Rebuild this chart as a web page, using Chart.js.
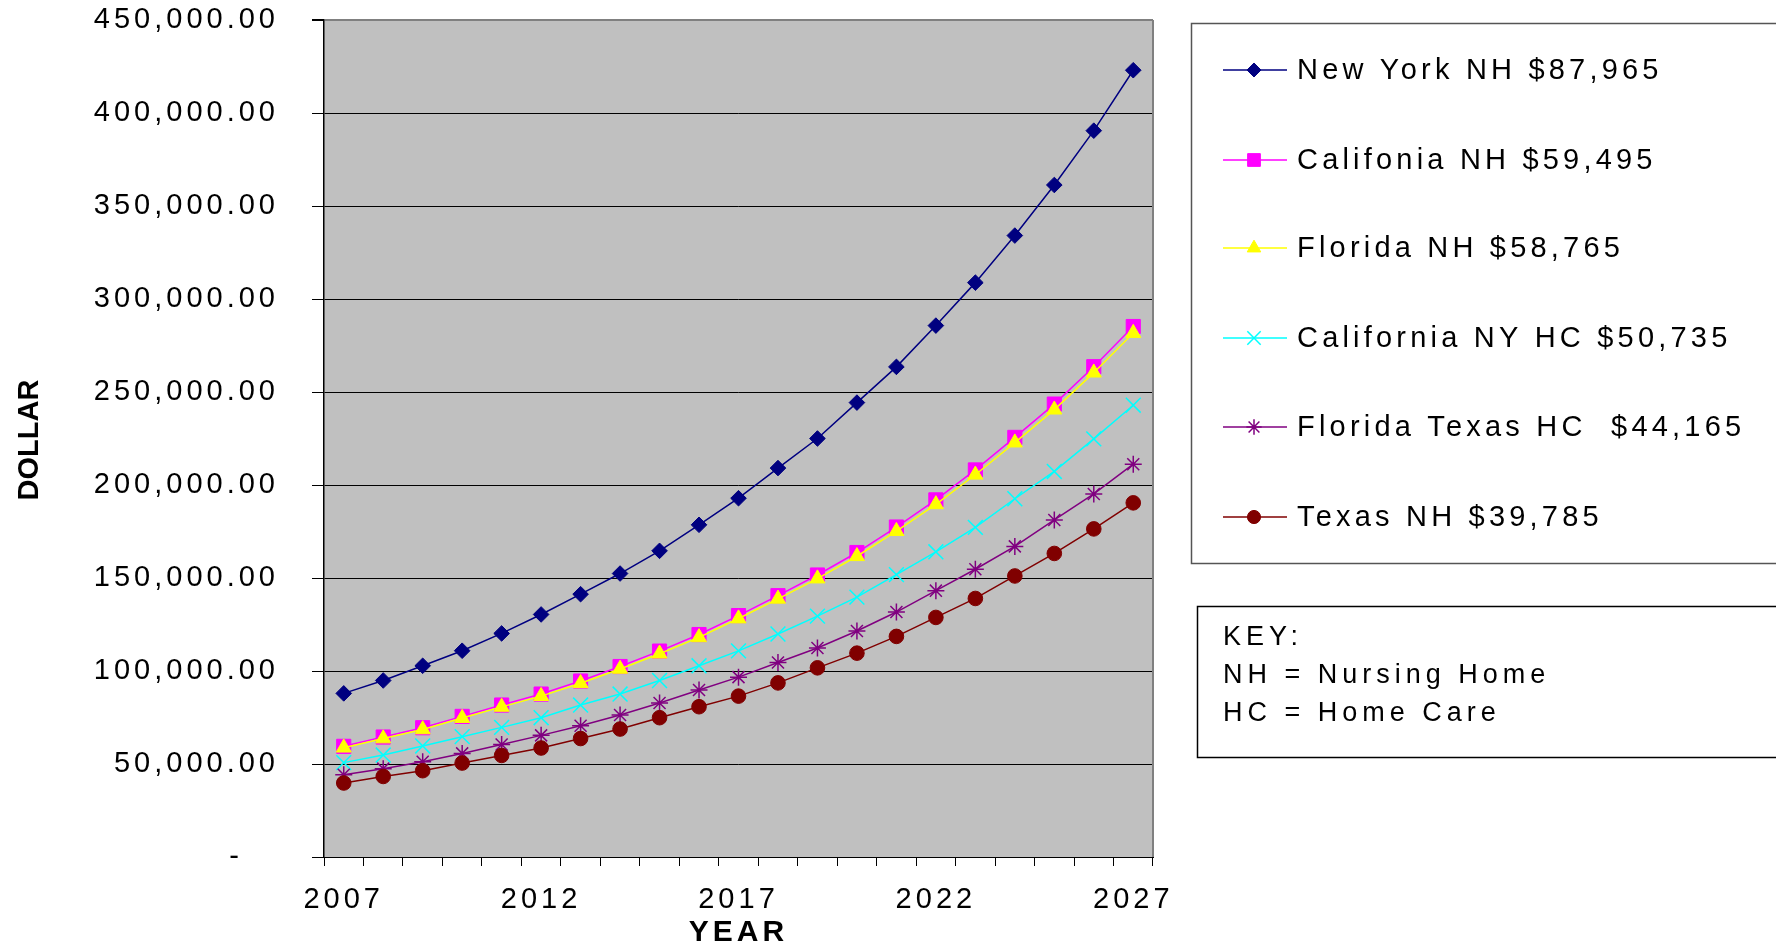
<!DOCTYPE html>
<html>
<head>
<meta charset="utf-8">
<title>Long-term care cost projection</title>
<script src="https://cdn.jsdelivr.net/npm/chart.js@4/dist/chart.umd.min.js"></script>
<style>
  html, body { margin: 0; padding: 0; background: #fff; }
  #wrap { position: relative; width: 1776px; height: 949px; }
</style>
</head>
<body>
<div id="wrap"><canvas id="lineChart" width="1776" height="949"></canvas></div>
<script>
// values (dollars per year)
const years = ['2007', '2008', '2009', '2010', '2011', '2012', '2013', '2014', '2015', '2016', '2017',
  '2018', '2019', '2020', '2021', '2022', '2023', '2024', '2025', '2026', '2027'];
const shownYears = ['2007', '2012', '2017', '2022', '2027'];

const newYorkNH = [87965, 94900, 102800, 110900, 120200, 130400, 141300, 152400, 164600, 178600, 192900,
  209100, 225000, 244300, 263500, 285700, 308800, 334100, 361300, 390500, 423000];
const californiaNH = [59495, 64500, 69500, 75600, 81700, 87600, 94600, 102400, 110700, 119600, 129800,
  140500, 151600, 163700, 177400, 192000, 208100, 225600, 243500, 263600, 285200];
const floridaNH = [58765, 63700, 68600, 74700, 80700, 86500, 93400, 101100, 109300, 118100, 128200,
  138800, 149700, 161700, 175200, 189600, 205500, 222800, 240500, 260400, 281700];
const californiaNyHC = [50735, 54800, 59700, 64700, 69700, 74900, 81700, 87600, 94900, 102800, 110800,
  119900, 129500, 139700, 151800, 164100, 177200, 192600, 207300, 224800, 242900];
const floridaTexasHC = [44165, 47500, 51200, 55700, 60500, 65400, 70600, 76300, 82800, 89800, 96700,
  104600, 112400, 121500, 131700, 143200, 154700, 167000, 181200, 195200, 211200];
const texasNH = [39785, 43300, 46400, 50500, 54600, 58600, 63700, 68800, 74900, 80800, 86500,
  93600, 101700, 109600, 118600, 128800, 139000, 151100, 163200, 176400, 190400];

const seriesNames = ['New York NH $87,965', 'Califonia NH $59,495', 'Florida NH $58,765',
  'California NY HC $50,735', 'Florida Texas HC  $44,165', 'Texas NH $39,785'];
const keyLines = ['KEY:', 'NH = Nursing Home', 'HC = Home Care'];

const yMax = 450000;
const yStep = 50000;

const FONT = '"Liberation Sans", Arial, sans-serif';

function series(label, data, color, style, radius, bw) {
  return {
    label, data,
    borderColor: color,
    backgroundColor: color,
    borderWidth: 1.5,
    pointStyle: style,
    pointRadius: radius,
    pointHoverRadius: radius,
    pointBorderWidth: bw,
    pointBackgroundColor: color,
    pointBorderColor: color,
    tension: 0,
  };
}

const datasets = [
  series(seriesNames[0], newYorkNH, '#000080', 'rectRot', 7.8, 1),
  series(seriesNames[1], californiaNH, '#ff00ff', 'rect', 10, 1),
  series(seriesNames[2], floridaNH, '#ffff00', 'triangle', 8.7, 1),
  series(seriesNames[3], californiaNyHC, '#00ffff', 'crossRot', 10.5, 1.5),
  series(seriesNames[4], floridaTexasHC, '#800080', 'star', 8.5, 1.5),
  series(seriesNames[5], texasNH, '#800000', 'circle', 7.3, 1),
];
// later series sit on top, like the original
datasets.forEach((d, i) => { d.order = datasets.length - i; });

const plotFrame = {
  id: 'plotFrame',
  beforeDraw(chart) {
    const { ctx, chartArea: a } = chart;
    ctx.save();
    ctx.fillStyle = '#c0c0c0';
    ctx.fillRect(a.left, a.top, a.right - a.left, a.bottom - a.top);
    ctx.restore();
    ctx.letterSpacing = '4px';
  },
  beforeDatasetsDraw(chart) {
    const { ctx, chartArea: a } = chart;
    ctx.save();
    ctx.strokeStyle = '#808080';
    ctx.lineWidth = 2;
    ctx.beginPath();
    ctx.moveTo(a.right, a.top);
    ctx.lineTo(a.right, a.bottom);
    ctx.stroke();
    ctx.restore();
  },
  afterDraw(chart) {
    const { ctx } = chart;
    ctx.save();
    // y axis title
    ctx.letterSpacing = '0px';
    ctx.translate(30, 440);
    ctx.rotate(-Math.PI / 2);
    ctx.font = 'bold 29px ' + FONT;
    ctx.fillStyle = '#000';
    ctx.textAlign = 'center';
    ctx.textBaseline = 'middle';
    ctx.fillText('DOLLAR', 0, 0);
    ctx.restore();

    // legend box
    ctx.save();
    ctx.strokeStyle = '#555';
    ctx.lineWidth = 1.5;
    ctx.strokeRect(1191.5, 23.5, 700, 540);
    const rowY = [70, 160, 248, 338, 427, 517];
    chart.data.datasets.forEach((d, i) => {
      const y = rowY[i];
      ctx.strokeStyle = d.borderColor;
      ctx.lineWidth = 1.5;
      ctx.beginPath();
      ctx.moveTo(1223, y);
      ctx.lineTo(1287, y);
      ctx.stroke();
      ctx.fillStyle = d.pointBackgroundColor;
      ctx.strokeStyle = d.pointBorderColor;
      ctx.lineWidth = d.pointBorderWidth;
      Chart.helpers.drawPoint(ctx, {
        pointStyle: d.pointStyle, rotation: 0,
        radius: d.pointRadius * 0.9, borderWidth: d.pointBorderWidth,
      }, 1254, y);
      ctx.fillStyle = '#000';
      ctx.font = '29px ' + FONT;
      ctx.letterSpacing = '4.2px';
      ctx.textAlign = 'left';
      ctx.textBaseline = 'middle';
      ctx.fillText(d.label, 1297, y + 1);
    });
    ctx.restore();

    // key box
    ctx.save();
    ctx.strokeStyle = '#000';
    ctx.lineWidth = 1.5;
    ctx.strokeRect(1197.5, 606.5, 700, 151);
    ctx.fillStyle = '#000';
    ctx.font = '27px ' + FONT;
    ctx.letterSpacing = '5px';
    ctx.textAlign = 'left';
    ctx.textBaseline = 'middle';
    const keyY = [638, 676, 714];
    keyLines.forEach((t, i) => ctx.fillText(t, 1223, keyY[i]));
    ctx.restore();
  },
};

new Chart(document.getElementById('lineChart').getContext('2d'), {
  type: 'line',
  data: { labels: years, datasets },
  options: {
    responsive: false,
    animation: false,
    layout: { autoPadding: false, padding: { top: 20, right: 623, bottom: 0, left: 0 } },
    plugins: {
      legend: { display: false },
      tooltip: { enabled: false },
    },
    scales: {
      x: {
        offset: true,
        grid: {
          offset: true,
          drawOnChartArea: false,
          drawTicks: true,
          tickLength: 9,
          color: '#000',
          lineWidth: 1,
        },
        border: { display: true, color: '#000', width: 1 },
        ticks: {
          autoSkip: false,
          maxRotation: 0,
          padding: 17,
          color: '#000',
          font: { family: FONT, size: 29 },
          callback(value) {
            const lab = this.getLabelForValue(value);
            return shownYears.includes(lab) ? lab : '';
          },
        },
        title: {
          display: true,
          text: 'YEAR',
          color: '#000',
          font: { family: FONT, size: 30, weight: 'bold' },
          padding: { top: 0, bottom: -2 },
        },
        afterFit(scale) {
          scale.height = 92;
          scale.paddingLeft = 0;
          scale.paddingRight = 0;
        },
      },
      y: {
        min: 0,
        max: yMax,
        grid: {
          color: (c) => (c.tick && c.tick.value === yMax ? '#808080' : '#000'),
          lineWidth: (c) => (c.tick && c.tick.value === yMax ? 2 : 1),
          tickColor: '#000',
          tickLength: 12,
          drawTicks: true,
        },
        border: { display: true, color: '#000', width: 1.5 },
        ticks: {
          stepSize: yStep,
          padding: 33,
          color: '#000',
          font: { family: FONT, size: 29 },
          callback(v) {
            if (v === 0) return '-   ';
            return v.toLocaleString('en-US', { minimumFractionDigits: 2, maximumFractionDigits: 2 });
          },
        },
        afterFit(scale) {
          scale.width = 324;
          scale.paddingTop = 0;
          scale.paddingBottom = 0;
        },
      },
    },
  },
  plugins: [plotFrame],
});
</script>
</body>
</html>
